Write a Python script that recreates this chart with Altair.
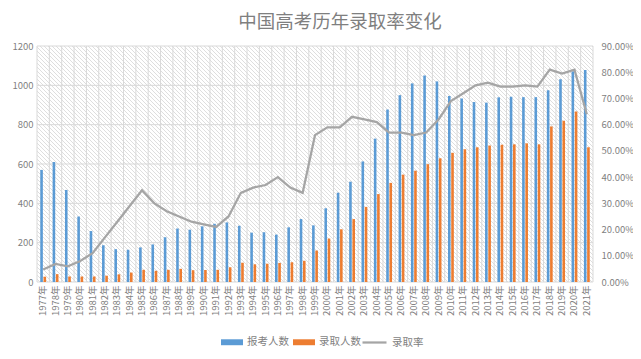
import altair as alt
import pandas as pd

# ---------------- data ----------------
years = ["1977年", "1978年", "1979年", "1980年", "1981年", "1982年", "1983年", "1984年", "1985年",
         "1986年", "1987年", "1988年", "1989年", "1990年", "1991年", "1992年", "1993年", "1994年",
         "1995年", "1996年", "1997年", "1998年", "1999年", "2000年", "2001年", "2002年", "2003年",
         "2004年", "2005年", "2006年", "2007年", "2008年", "2009年", "2010年", "2011年", "2012年",
         "2013年", "2014年", "2015年", "2016年", "2017年", "2018年", "2019年", "2020年", "2021年"]

applicants = [570, 610, 468, 333, 259, 187, 167, 164, 176,
              191, 228, 272, 266, 283, 296, 303, 286, 251,
              253, 241, 278, 320, 288, 375, 454, 510, 613,
              729, 877, 950, 1010, 1050, 1020, 946, 933, 915,
              912, 939, 942, 940, 940, 975, 1031, 1071, 1078]

admitted = [27, 40, 28, 28, 28, 32, 39, 48, 62,
            57, 62, 67, 60, 61, 62, 75, 98, 90,
            93, 97, 100, 108, 160, 221, 268, 320, 382,
            447, 504, 546, 566, 599, 629, 657, 675, 685,
            694, 698, 700, 705, 700, 791, 820, 867, 685]

rate = [0.048, 0.069, 0.060, 0.080, 0.110, 0.170, 0.230, 0.290, 0.350,
        0.300, 0.270, 0.250, 0.230, 0.220, 0.210, 0.250, 0.340, 0.360,
        0.370, 0.400, 0.360, 0.340, 0.560, 0.590, 0.590, 0.630, 0.620,
        0.610, 0.570, 0.570, 0.560, 0.570, 0.620, 0.690, 0.720, 0.750,
        0.760, 0.745, 0.745, 0.750, 0.745, 0.810, 0.795, 0.810, 0.640]

series = ["报考人数", "录取人数"]
line_name = "录取率"
left_ticks = [0, 200, 400, 600, 800, 1000, 1200]
right_ticks = [0.0, 0.1, 0.2, 0.3, 0.4, 0.5, 0.6, 0.7, 0.8, 0.9]
title_text = "中国高考历年录取率变化"

# ---------------- tables ----------------
df = pd.DataFrame({"year": years, "报考人数": applicants, "录取人数": admitted,
                   "rate": rate, "s": line_name})
df_long = df.melt(id_vars=["year"], value_vars=series, var_name="series", value_name="value")
df_grid = pd.DataFrame({"v": left_ticks})
df_last = df[df["year"] == years[-1]]

W, H = 556, 236
GRID = "#d9d9d9"
TXT = "#7f7f7f"
FONT = "Noto Sans CJK SC"

# hatched background as a striped linear gradient (stripes running top-left -> bottom-right)
ratio = H / W
g2 = 1 + ratio * ratio
t = (1 + ratio) / g2
n_stripes = int(round((W + H) / 2 ** 0.5 / 2.83))
stops = []
for k in range(n_stripes):
    a = k / n_stripes
    b = (k + 0.62) / n_stripes
    c = (k + 1) / n_stripes
    stops += [{"offset": a, "color": "#ffffff"}, {"offset": b, "color": "#ffffff"},
              {"offset": b, "color": "#dedede"}, {"offset": c, "color": "#dedede"}]
hatch = {"gradient": "linear", "x1": 0, "y1": 1, "x2": t, "y2": 1 - t * ratio, "stops": stops}

xscale = alt.Scale(paddingInner=0, paddingOuter=0)
yscale = alt.Scale(domain=[0, 1200])

x_axis = alt.Axis(labelAngle=-90, labelFontSize=9.5, labelColor=TXT, labelFont=FONT,
                  ticks=False, domain=False, grid=False, labelPadding=3, title=None)
y_axis = alt.Axis(orient="left", values=left_ticks, format="d", grid=False, ticks=False, domain=False,
                  labelColor=TXT, labelFontSize=9.5, labelFont=FONT, labelPadding=4, title=None)

bg = alt.Chart(df_grid).mark_rect(fill=hatch, strokeWidth=0).encode(
    x=alt.value(0), x2=alt.value(W), y=alt.value(0), y2=alt.value(H)
)

vgrid = alt.Chart(df).mark_rule(color=GRID, strokeWidth=1).encode(
    x=alt.X("year:N", sort=years, scale=xscale, bandPosition=0, axis=x_axis)
)
vgrid_end = alt.Chart(df_last).mark_rule(color=GRID, strokeWidth=1).encode(
    x=alt.X("year:N", sort=years, scale=xscale, bandPosition=1, axis=x_axis)
)

hgrid = alt.Chart(df_grid).mark_rule(color=GRID, strokeWidth=1).encode(
    y=alt.Y("v:Q", scale=yscale, axis=y_axis)
)

bars = alt.Chart(df_long).mark_bar().encode(
    x=alt.X("year:N", sort=years, scale=xscale, axis=x_axis),
    xOffset=alt.XOffset("series:N", sort=series,
                        scale=alt.Scale(domain=series, paddingInner=0.2, paddingOuter=1)),
    y=alt.Y("value:Q", scale=yscale, axis=y_axis),
    color=alt.Color("series:N", sort=series,
                    scale=alt.Scale(domain=series, range=["#5B9BD5", "#ED7D31"]),
                    legend=alt.Legend(orient="none", legendX=184, legendY=285, direction="horizontal",
                                      title=None, symbolType="M-1,-0.27L1,-0.27L1,0.27L-1,0.27Z",
                                      symbolSize=484, symbolStrokeWidth=0, labelFontSize=10.5,
                                      labelColor=TXT, labelFont=FONT, labelOffset=4,
                                      columnPadding=4, padding=0)),
)

line = alt.Chart(df).mark_line(strokeWidth=2.25).encode(
    x=alt.X("year:N", sort=years, scale=xscale, axis=x_axis),
    y=alt.Y("rate:Q", scale=alt.Scale(domain=[0, 0.9]), title=None,
            axis=alt.Axis(orient="right", values=right_ticks, format=".2%", grid=False, ticks=False,
                          domain=False, labelColor=TXT, labelFontSize=9.5, labelFont=FONT,
                          labelPadding=8)),
    stroke=alt.Stroke("s:N", scale=alt.Scale(domain=[line_name], range=["#A5A5A5"]),
                      legend=alt.Legend(orient="none", legendX=324, legendY=283, title=None,
                                        symbolType="stroke", symbolSize=576, symbolStrokeWidth=2.25,
                                        labelFontSize=10.5, labelColor=TXT, labelFont=FONT,
                                        labelOffset=4, padding=0)),
)

left_part = alt.layer(bg, vgrid, vgrid_end, hgrid, bars)

chart = alt.layer(left_part, line).resolve_scale(y="independent").properties(
    width=W, height=H,
    autosize=alt.AutoSizeParams(type="none"),
    padding={"left": 29, "top": 38, "right": 40, "bottom": 69},
    background="white",
    title=alt.TitleParams(title_text, fontSize=18.5, color="#7f7f7f", font=FONT, fontWeight="normal",
                          anchor="middle", dx=25, offset=10),
).configure_view(stroke=None)

chart.save("out.html", embed_options={"renderer": "svg", "actions": False})
